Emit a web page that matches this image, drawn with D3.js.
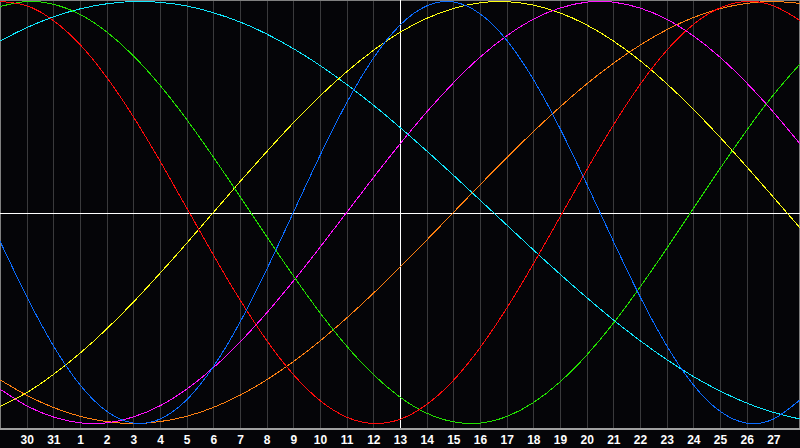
<!DOCTYPE html>
<html>
<head>
<meta charset="utf-8">
<script src="https://cdn.jsdelivr.net/npm/d3@7"></script>
<style>
  html, body { margin: 0; padding: 0; background: #050508; }
  svg { display: block; }
</style>
</head>
<body>
<div id="chart"></div>
<script>
'use strict';

// Day labels, one per day column (index 0 .. 30)
let dayLabels = [29, 30, 31, 1, 2, 3, 4, 5, 6, 7, 8, 9, 10, 11, 12, 13, 14,
  15, 16, 17, 18, 19, 20, 21, 22, 23, 24, 25, 26, 27, 28];

// Cycle values (percent)
let cycle23 = [-13.6, -39.8, -63.1, -81.7, -94.2, -99.8, -97.9, -88.8, -73.1, -52.0,
  -27.0, 0, 27.0, 52.0, 73.1, 88.8, 97.9, 99.8, 94.2, 81.7,
  63.1, 39.8, 13.6, -13.6, -39.8, -63.1, -81.7, -94.2, -99.8, -97.9, -88.8];
let cycle28 = [100, 98.0, 91.0, 79.6, 64.1, 45.4, 24.4, 2.2, -20.1, -41.4,
  -60.6, -76.8, -89.1, -97.0, -100, -98.0, -91.0, -79.6, -64.1, -45.4,
  -24.4, -2.2, 20.1, 41.4, 60.6, 76.8, 89.1, 97.0, 100, 98.0, 91.0];
let cycle33 = [97.6, 100, 98.7, 93.9, 85.6, 74.3, 60.3, 44.1, 26.3, 7.6,
  -11.4, -30.0, -47.5, -63.3, -76.8, -87.5, -95.1, -99.2, -99.8, -96.7,
  -90.1, -80.3, -67.6, -52.5, -35.4, -17.1, 1.9, 20.8, 38.9, 55.7, 70.4];
let cycle38 = [-83.7, -91.6, -96.9, -99.7, -99.7, -96.9, -91.6, -83.7, -73.6, -61.4,
  -47.6, -32.5, -16.5, 0, 16.5, 32.5, 47.6, 61.4, 73.6, 83.7,
  91.6, 96.9, 99.7, 99.7, 96.9, 91.6, 83.7, 73.6, 61.4, 47.6, 32.5];
let cycle43 = [-92.0, -85.4, -76.8, -66.7, -55.2, -42.5, -28.8, -14.6, 0, 14.6,
  28.8, 42.5, 55.2, 66.7, 76.8, 85.4, 92.0, 96.7, 99.4, 99.9,
  98.3, 94.6, 88.9, 81.3, 72.0, 61.1, 48.9, 35.7, 21.7, 7.3, -7.3];
let cycle48 = [-79.3, -86.6, -92.4, -96.6, -99.1, -100, -99.1, -96.6, -92.4, -86.6,
  -79.3, -70.7, -60.9, -50.0, -38.3, -25.9, -13.1, 0, 13.1, 25.9,
  38.3, 50.0, 60.9, 70.7, 79.3, 86.6, 92.4, 96.6, 99.1, 100, 99.1];
let cycle53 = [81.3, 87.6, 92.7, 96.5, 98.9, 100, 99.6, 97.9, 94.7, 90.3,
  84.6, 77.7, 69.7, 60.7, 50.9, 40.3, 29.2, 17.7, 5.9, -5.9,
  -17.7, -29.2, -40.3, -50.9, -60.7, -69.7, -77.7, -84.6, -90.3, -94.7, -97.9];

let seriesNames = ['cycle53', 'cycle48', 'cycle43', 'cycle38', 'cycle33', 'cycle28', 'cycle23'];
let seriesValues = [cycle53, cycle48, cycle43, cycle38, cycle33, cycle28, cycle23];

// Formatting
let format = {
  width: 800,
  height: 448,
  plotBottom: 428,
  yTop: 1.5,
  yBottom: 423.5,
};

let colors = {
  cycle23: '#0a6cff',
  cycle28: '#ff0a0a',
  cycle33: '#22e000',
  cycle38: '#ff10ff',
  cycle43: '#ffff10',
  cycle48: '#ff8010',
  cycle53: '#10e8ff',
};

let bgColor = '#050508';
let gridColor = '#3a3a3c';
let frameColor = '#a0a0a0';

function setup(){
  let svg = d3.select('#chart').append('svg')
    .attr('width', format.width)
    .attr('height', format.height);

  svg.append('rect')
    .attr('width', format.width)
    .attr('height', format.height)
    .attr('fill', bgColor);

  let xScale = d3.scaleLinear()
    .domain([0, dayLabels.length - 1])
    .range([0, format.width]);

  let yScale = d3.scaleLinear()
    .domain([-100, 100])
    .range([format.yBottom, format.yTop]);

  let tickIdx = d3.range(1, dayLabels.length - 1);

  // vertical day grid
  svg.append('g')
    .selectAll('line')
    .data(tickIdx)
    .enter()
    .append('line')
    .attr('x1', (d) => Math.round(xScale(d)) + 0.5)
    .attr('x2', (d) => Math.round(xScale(d)) + 0.5)
    .attr('y1', 0)
    .attr('y2', format.plotBottom)
    .attr('stroke', gridColor)
    .attr('stroke-width', 1)
    .attr('shape-rendering', 'crispEdges');

  // frame
  svg.append('path')
    .attr('d', `M0.5,${format.plotBottom + 0.5}V0.5H${format.width - 0.5}V${format.plotBottom + 0.5}`)
    .attr('fill', 'none')
    .attr('stroke', '#808080')
    .attr('shape-rendering', 'crispEdges');
  svg.append('line')
    .attr('x1', 0).attr('x2', format.width)
    .attr('y1', format.plotBottom + 0.5).attr('y2', format.plotBottom + 0.5)
    .attr('stroke', frameColor)
    .attr('stroke-width', 2)
    .attr('shape-rendering', 'crispEdges');

  // centre cross
  let midX = Math.round(xScale(15)) + 0.5;
  let midY = Math.round(yScale(0)) + 0.5;
  svg.append('line')
    .attr('x1', 0).attr('x2', format.width)
    .attr('y1', midY).attr('y2', midY)
    .attr('stroke', '#ffffff')
    .attr('shape-rendering', 'crispEdges');
  svg.append('line')
    .attr('x1', midX).attr('x2', midX)
    .attr('y1', 0).attr('y2', format.plotBottom)
    .attr('stroke', '#ffffff')
    .attr('shape-rendering', 'crispEdges');

  // cycles
  let line = d3.line()
    .x((d, i) => xScale(i))
    .y((d) => yScale(d))
    .curve(d3.curveNatural);

  svg.append('g')
    .selectAll('path')
    .data(seriesNames)
    .enter()
    .append('path')
    .attr('d', (name, i) => line(seriesValues[i]))
    .attr('fill', 'none')
    .attr('stroke', (name) => colors[name])
    .attr('stroke-width', 1)
    .attr('shape-rendering', 'crispEdges');

  // day axis
  let xAxis = d3.axisBottom(xScale)
    .tickValues(tickIdx)
    .tickFormat((d) => dayLabels[d])
    .tickSize(0)
    .tickPadding(0);

  let axisG = svg.append('g')
    .attr('transform', `translate(0,${format.plotBottom + 7})`)
    .call(xAxis);
  axisG.select('.domain').remove();
  axisG.selectAll('text')
    .attr('fill', '#ffffff')
    .style('font-family', '"Liberation Sans", Arial, sans-serif')
    .style('font-size', '12px')
    .style('font-weight', 'bold');
}

window.onload = setup;
</script>
</body>
</html>
